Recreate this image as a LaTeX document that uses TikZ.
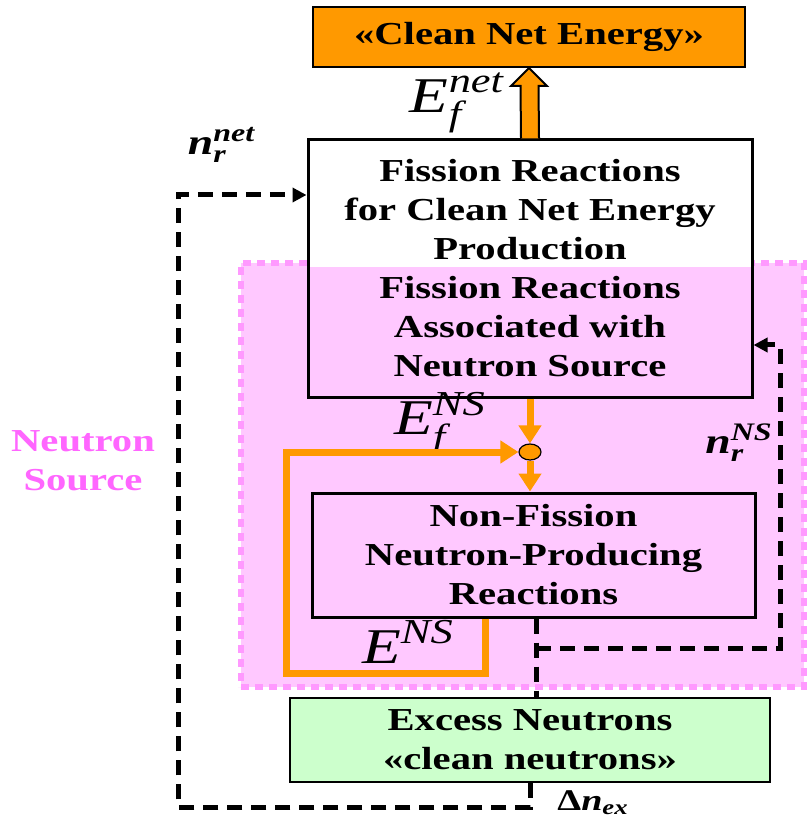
\documentclass[tikz,border=0pt]{standalone}
\usepackage{amsmath}
\usepackage{fontspec}
\setmainfont[FakeStretch=1.27]{Liberation Serif}
\usetikzlibrary{arrows.meta,shapes.geometric,calc}
\pgfdeclarelayer{background}
\pgfsetlayers{background,main}
\definecolor{energyorange}{RGB}{255,153,0}
\definecolor{nspink}{RGB}{255,200,255}
\definecolor{nsborder}{RGB}{255,153,255}
\definecolor{nstext}{RGB}{255,102,255}
\definecolor{excessgreen}{RGB}{204,255,204}
\newcommand{\bi}[1]{\textbf{\textit{#1}}}

\tikzset{
  box/.style={draw, line width=1.5pt, align=center, inner sep=0pt,
    font=\bfseries\fontsize{16}{19.5}\selectfont},
  eflow/.style={draw=energyorange, line width=3.5pt,
    -{Triangle[length=9pt,width=11pt]}},
  nflow/.style={draw=black, line width=2.5pt, dash pattern=on 7.5pt off 4.5pt,
    -{Triangle[length=7pt,width=7pt]}},
  lbl/.style={inner sep=0pt}
}

\begin{document}
\begin{tikzpicture}[x=0.5pt,y=-0.5pt]
  \useasboundingbox (0,0) rectangle (807,817);

  % boxes
  \node[box, line width=1pt, fill=energyorange, minimum width=216pt, minimum height=30pt]
    (energy) at (529,37) {«Clean Net Energy»};
  \node[box, minimum width=222pt, minimum height=128.5pt] (fis) at (530,268.5)
    {Fission Reactions\\for Clean Net Energy\\Production\\Fission Reactions\\Associated with\\Neutron Source};
  \node[ellipse, draw, line width=0.6pt, fill=energyorange, inner sep=0pt,
    minimum width=11pt, minimum height=8pt] (junc) at (530,452) {};
  \node[box, fill=nspink, minimum width=221.5pt, minimum height=62pt] (nfr) at (533.5,555)
    {Non-Fission\\Neutron-Producing\\Reactions};
  \node[box, line width=0.75pt, fill=excessgreen, minimum width=240pt, minimum height=42pt]
    (exn) at (530,740) {Excess Neutrons\\«clean neutrons»};

  % neutron source region
  \node[box, draw=none, text=nstext] (nslabel) at (83,461) {Neutron\\Source};
  \begin{pgfonlayer}{background}
    \node[draw=nsborder, fill=nspink, line width=3pt, dash pattern=on 4pt off 3pt,
      minimum width=281.5pt, minimum height=212pt] (nsreg) at (522.5,475) {};
    \fill[white] (fis.north west) rectangle (fis.east |- 0,267);
  \end{pgfonlayer}

  % labels
  \node[lbl, font=\fontsize{25}{25}\selectfont] (efnet) at (457,103)
    {$\textit{E}_{\textit{f}}^{\textit{net}}$};
  \node[lbl, font=\fontsize{18}{18}\selectfont] (nrnet) at (222,145)
    {$\bi{n}_{\bi{r}}^{\bi{net}}$};
  \node[lbl, font=\fontsize{25}{25}\selectfont] (efns) at (440,424)
    {$\textit{E}_{\textit{f}}^{\textit{NS}}$};
  \node[lbl, font=\fontsize{25}{25}\selectfont] (ens) at (408,642)
    {$\textit{E}^{\textit{NS}}$};
  \node[lbl, font=\fontsize{18}{18}\selectfont] (nrns) at (739,443)
    {$\bi{n}_{\bi{r}}^{\bi{NS}}$};
  \node[lbl, font=\fontsize{15}{15}\selectfont] (dnex) at (593,803)
    {\textbf{Δ}$\bi{n}_{\bi{ex}}$};

  % energy flows
  \draw[line width=1pt, fill=energyorange]
    ($(fis.north)+(-9,0)$) -- ($(energy.south)+(-8.5,18)$) -- ($(energy.south)+(-18,18)$)
    -- (energy.south) -- ($(energy.south)+(18,18)$) -- ($(energy.south)+(9.5,18)$)
    -- ($(fis.north)+(9,0)$);
  \draw[eflow] (fis.south) -- (junc.north);
  \draw[eflow] (junc.south) -- (junc.south |- nfr.north);
  \coordinate (loopstart) at (485,673);
  \coordinate (loopcorner) at (286,673);
  \draw[eflow] (loopstart |- nfr.south) -- (loopstart) -- (loopcorner)
    -- (loopcorner |- junc) -- (junc.west);

  % neutron flows
  \coordinate (nstap) at (536,648);
  \coordinate (nsturn) at (780,648);
  \coordinate (exturn) at (178,807);
  \draw[nflow, -] (nstap |- nfr.south) -- (nstap |- exn.north);
  \draw[nflow] (nstap) -- (nsturn) -- (nsturn |- 0,345) -- (fis.east |- 0,345);
  \draw[nflow] (exn.south) -- (exn.south |- exturn) -- (exturn)
    -- (exturn |- 0,195) -- (fis.west |- 0,195);
\end{tikzpicture}
\end{document}
